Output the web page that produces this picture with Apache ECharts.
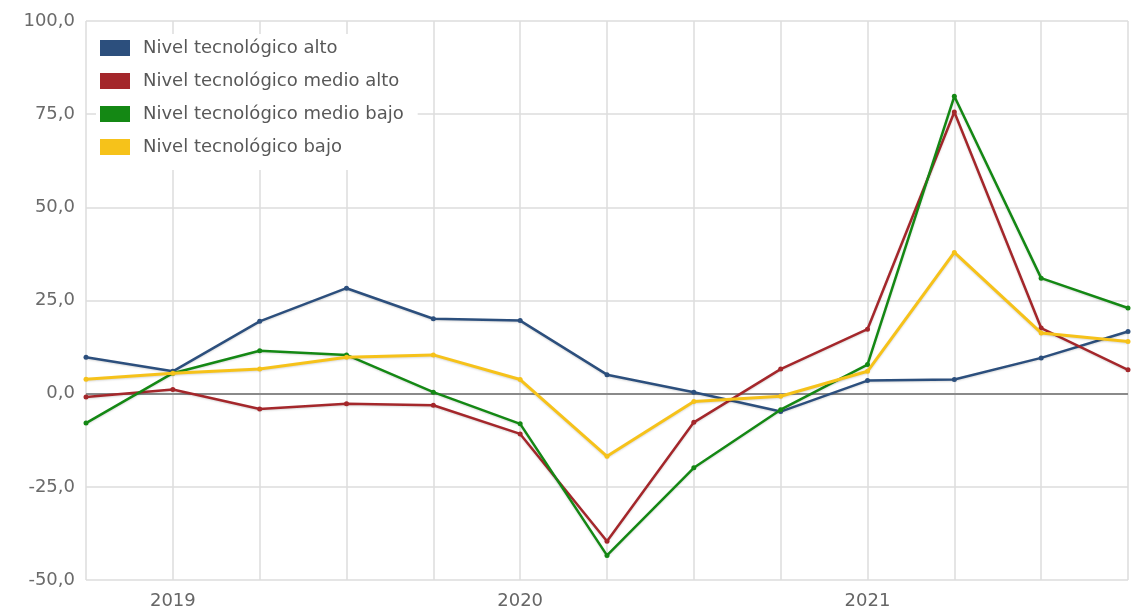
<!DOCTYPE html>
<html>
<head>
<meta charset="utf-8">
<script src="https://cdn.jsdelivr.net/npm/echarts@6/dist/echarts.min.js"></script>
<style>
html,body{margin:0;padding:0;background:#fff;}
#chart{width:1131px;height:613px;}
</style>
</head>
<body>
<div id="chart"></div>
<script>
var categories = ['2018 T4','2019 T1','2019 T2','2019 T3','2019 T4','2020 T1','2020 T2','2020 T3','2020 T4','2021 T1','2021 T2','2021 T3','2021 T4'];
var seriesNames = ['Nivel tecnológico alto','Nivel tecnológico medio alto','Nivel tecnológico medio bajo','Nivel tecnológico bajo'];
var alto       = [9.8, 6.0, 19.4, 28.3, 20.1, 19.6, 5.1, 0.4, -4.8, 3.5, 3.8, 9.6, 16.7];
var medioAlto  = [-0.9, 1.1, -4.1, -2.7, -3.1, -10.8, -39.6, -7.7, 6.6, 17.3, 75.6, 17.6, 6.4];
var medioBajo  = [-7.9, 5.5, 11.5, 10.4, 0.4, -8.1, -43.4, -19.9, -4.3, 7.8, 79.8, 31.0, 23.0];
var bajo       = [3.9, 5.5, 6.6, 9.8, 10.4, 3.8, -16.8, -2.1, -0.7, 6.0, 37.9, 16.3, 14.0];
var colors = ['#2c4f7d', '#a4272b', '#148814', '#f6c21a'];
var yTicks = {min: -50, max: 100, interval: 25};

var chart = echarts.init(document.getElementById('chart'), null, {renderer: 'canvas'});
var dataSets = [alto, medioAlto, medioBajo, bajo];
var font = 'DejaVu Sans, Verdana, sans-serif';
var series = dataSets.map(function (d, i) {
  var s = {
    name: seriesNames[i],
    type: 'line',
    data: d,
    symbol: 'circle',
    symbolSize: 5,
    showSymbol: true,
    animation: false,
    lineStyle: {width: i === 3 ? 3 : 2.5, color: colors[i], shadowColor: 'rgba(0,0,0,0.15)', shadowBlur: 2, shadowOffsetY: 1},
    itemStyle: {color: colors[i]},
    z: 3 + i
  };
  if (i === 0) {
    s.markLine = {
      silent: true,
      symbol: 'none',
      label: {show: false},
      lineStyle: {color: '#8a8a8a', type: 'solid', width: 2},
      data: [{yAxis: 0}],
      z: 2
    };
  }
  return s;
});

chart.setOption({
  backgroundColor: '#ffffff',
  animation: false,
  color: colors,
  grid: {left: 86, right: 0, top: 21, bottom: 33, containLabel: false},
  legend: {
    orient: 'vertical',
    left: 96,
    top: 34,
    padding: [5, 14, 14, 4],
    backgroundColor: '#ffffff',
    icon: 'rect',
    itemWidth: 30,
    itemHeight: 16,
    itemGap: 15,
    z: 10,
    textStyle: {fontFamily: font, fontSize: 18, color: '#585858', lineHeight: 16, padding: [0, 0, 0, 8]},
    data: seriesNames
  },
  xAxis: {
    type: 'category',
    data: categories,
    boundaryGap: false,
    axisLine: {show: false},
    axisTick: {show: false},
    splitLine: {show: true, interval: 0, lineStyle: {color: '#dcdcdc', width: 1.5}},
    axisLabel: {
      interval: 0,
      margin: 12,
      fontFamily: font,
      fontSize: 18,
      color: '#666',
      formatter: function (v) { return v.indexOf('T1') >= 0 ? v.split(' ')[0] : ''; }
    }
  },
  yAxis: {
    type: 'value',
    min: yTicks.min,
    max: yTicks.max,
    interval: yTicks.interval,
    axisLine: {show: false},
    axisTick: {show: false},
    splitLine: {show: true, lineStyle: {color: '#dcdcdc', width: 1.5}},
    axisLabel: {
      margin: 11,
      fontFamily: font,
      fontSize: 18,
      color: '#6a6a6a',
      formatter: function (v) { return v.toFixed(1).replace('.', ','); }
    }
  },
  series: series
});
</script>
</body>
</html>
